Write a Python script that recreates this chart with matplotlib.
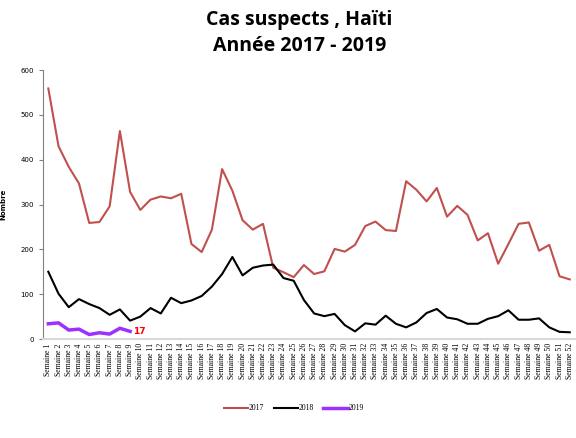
import matplotlib
matplotlib.use("Agg")
from matplotlib import pyplot as plt

weeks = ["Semaine %d" % i for i in range(1, 53)]

cases_2017 = [559, 430, 384, 347, 259, 261, 296, 464, 328, 288, 311, 318, 314, 324,
              212, 194, 244, 379, 331, 265, 244, 257, 159, 149, 138, 165, 145, 151,
              201, 195, 210, 252, 262, 243, 241, 352, 333, 307, 337, 273, 297, 277,
              220, 236, 168, 212, 257, 260, 197, 210, 140, 133]
cases_2018 = [150, 101, 71, 89, 78, 69, 54, 66, 41, 50, 69, 57, 92, 80, 86, 96, 117,
              145, 183, 142, 159, 164, 166, 136, 130, 87, 57, 51, 56, 31, 17, 35, 32,
              52, 34, 26, 37, 58, 67, 48, 44, 34, 34, 45, 51, 64, 43, 43, 46, 26, 16, 15]
cases_2019 = [34, 36, 20, 22, 10, 14, 11, 24, 17]

fig = plt.figure(figsize=(5.76, 4.38), dpi=100)
ax = fig.add_axes([0.075, 0.226, 0.923, 0.614])

x = list(range(1, 53))
ax.plot(x, cases_2017, color="#C0504D", lw=1.5, label="2017")
ax.plot(x, cases_2018, color="black", lw=1.5, label="2018")
ax.plot(x[:len(cases_2019)], cases_2019, color="#9B30FF", lw=2.5, label="2019")

# label on the last 2019 point
ax.text(len(cases_2019) + 0.3, cases_2019[-1], str(cases_2019[-1]), color="red",
        fontsize=6.5, fontweight="bold", va="center", ha="left")

ax.set_xlim(0.5, 52.5)
ax.set_ylim(0, 600)
ax.set_yticks(range(0, 601, 100))
ax.set_xticks(x)
ax.set_xticklabels(weeks, rotation=90, fontsize=5.6, family="Liberation Serif")
ax.tick_params(axis="y", labelsize=5, length=3, color="#808080")
ax.tick_params(axis="x", length=0, pad=3)
ax.set_ylabel("Nombre", fontsize=5, fontweight="bold", labelpad=10)

for s in ["top", "right"]:
    ax.spines[s].set_visible(False)
ax.spines["left"].set_color("#808080")
ax.spines["bottom"].set_color("#D9D9D9")
ax.spines["bottom"].set_linewidth(1.5)

fig.text(0.52, 0.955, "Cas suspects , Haïti", ha="center", va="center",
         fontsize=14, fontweight="bold", family="Open Sans")
fig.text(0.52, 0.895, "Année 2017 - 2019", ha="center", va="center",
         fontsize=14, fontweight="bold", family="Open Sans")

fig.legend(loc="center", bbox_to_anchor=(0.51, 0.068), ncol=3, frameon=False,
           handlelength=3.2, columnspacing=1.2, handletextpad=0.1,
           prop={"family": "Liberation Serif", "size": 5.5})

fig.savefig("out.png", dpi=100)
